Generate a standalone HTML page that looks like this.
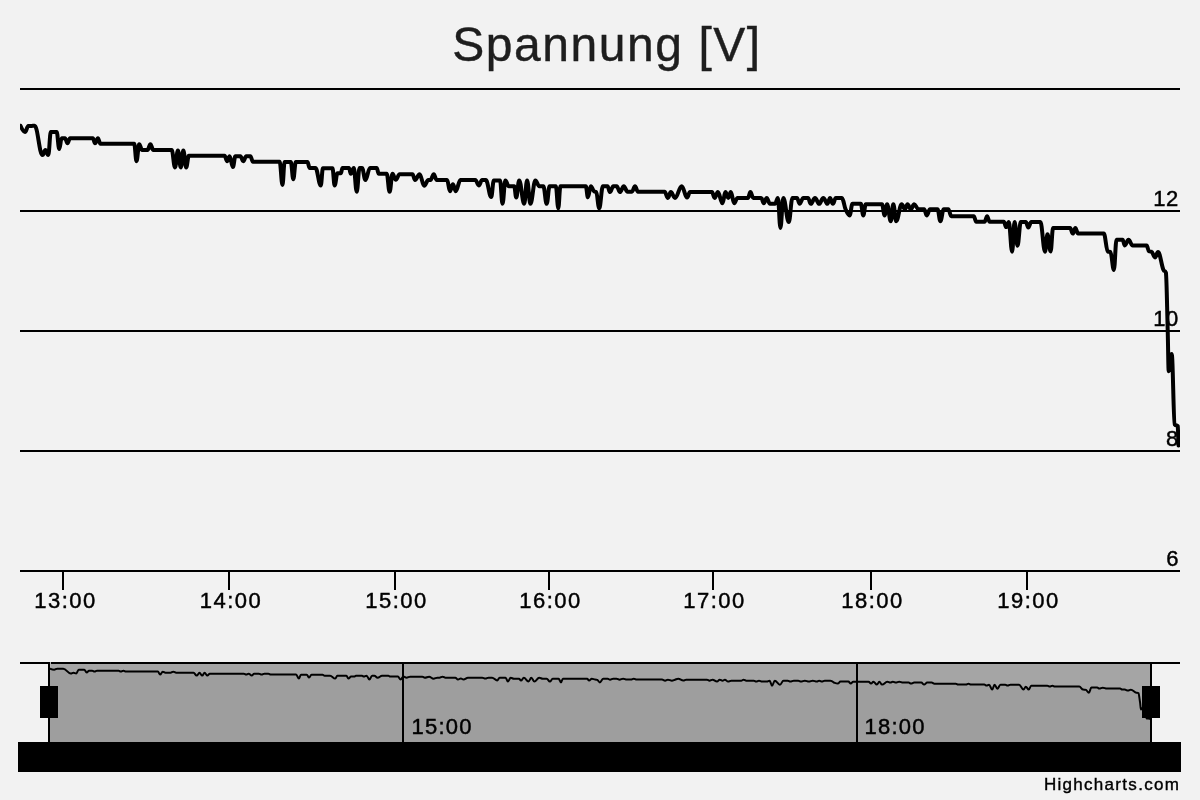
<!DOCTYPE html>
<html>
<head>
<meta charset="utf-8">
<style>
html,body{margin:0;padding:0;background:#f2f2f2;width:1200px;height:800px;overflow:hidden;}
svg{display:block;will-change:transform;}
text{font-family:"Liberation Sans",sans-serif;}
</style>
</head>
<body>
<svg width="1200" height="800" viewBox="0 0 1200 800">
<defs>
<clipPath id="plot"><rect x="20" y="89" width="1160" height="482"/></clipPath>
<clipPath id="navc"><rect x="50" y="664" width="1100" height="78"/></clipPath>
</defs>
<rect x="0" y="0" width="1200" height="800" fill="#f2f2f2"/>
<!-- title -->
<text x="607" y="61" text-anchor="middle" font-size="48" fill="#1e1e1e" stroke="#1e1e1e" stroke-width="0.4" letter-spacing="1.55">Spannung [V]</text>
<!-- grid -->
<g fill="#000">
<rect x="20" y="88" width="1160" height="2"/>
<rect x="20" y="210" width="1160" height="2"/>
<rect x="20" y="330" width="1160" height="2"/>
<rect x="20" y="450" width="1160" height="2"/>
<rect x="20" y="570" width="1160" height="2"/>
<!-- ticks -->
<rect x="62" y="572" width="2" height="18"/>
<rect x="228" y="572" width="2" height="18"/>
<rect x="394" y="572" width="2" height="18"/>
<rect x="548" y="572" width="2" height="18"/>
<rect x="712" y="572" width="2" height="18"/>
<rect x="870" y="572" width="2" height="18"/>
<rect x="1026" y="572" width="2" height="18"/>
</g>
<!-- y labels -->
<g font-size="22" fill="#000" stroke="#000" stroke-width="0.45" text-anchor="end" letter-spacing="0.4">
<text x="1178.6" y="205.9">12</text>
<text x="1178.6" y="325.9">10</text>
<text x="1178.6" y="445.9">8</text>
<text x="1179" y="565.9">6</text>
</g>
<!-- series -->
<g clip-path="url(#plot)">
<path d="M20.5 125.8C20.5 125.8 23.2 132.0 25.0 132.0C26.3 132.0 27.0 126.1 28.3 126.0C29.6 125.9 30.2 125.9 31.5 125.9C32.7 125.9 33.3 125.8 34.6 125.8C37.8 125.8 39.3 155.0 42.5 155.0C43.7 155.0 44.2 150.0 45.4 150.0C46.6 150.0 47.1 155.0 48.3 155.0C49.3 155.0 49.8 132.0 50.8 132.0C53.2 132.0 54.3 132.0 56.7 132.0C57.7 132.0 58.2 149.0 59.2 149.0C60.2 149.0 60.7 138.3 61.7 138.3C63.0 138.3 63.7 138.3 65.0 138.3C66.0 138.3 66.5 143.3 67.5 143.3C68.5 143.3 69.0 138.3 70.0 138.3C71.1 138.3 71.7 138.3 72.9 138.3C74.0 138.3 74.6 138.3 75.7 138.3C76.9 138.3 77.4 138.3 78.6 138.3C79.7 138.3 80.3 138.3 81.5 138.3C82.6 138.3 83.2 138.3 84.3 138.3C85.5 138.3 86.0 138.3 87.2 138.3C88.3 138.3 88.9 138.3 90.0 138.3C91.2 138.3 91.8 138.3 92.9 138.3C93.7 138.3 94.2 143.3 95.0 143.3C96.2 143.3 96.7 138.3 97.9 138.3C98.9 138.3 99.4 143.8 100.4 143.8C101.5 143.8 102.1 143.8 103.2 143.8C104.3 143.8 104.9 143.8 106.0 143.8C107.2 143.8 107.7 143.8 108.8 143.8C110.0 143.8 110.5 143.8 111.7 143.8C112.8 143.8 113.4 143.8 114.5 143.8C115.6 143.8 116.2 143.8 117.3 143.8C118.4 143.8 119.0 143.8 120.1 143.8C121.2 143.8 121.8 143.8 122.9 143.8C124.1 143.8 124.6 143.8 125.8 143.8C126.9 143.8 127.4 143.8 128.6 143.8C129.7 143.8 130.3 143.8 131.4 143.8C132.5 143.8 133.1 143.8 134.2 143.8C135.1 143.8 135.6 161.2 136.5 161.2C137.6 161.2 138.1 144.2 139.2 144.2C140.4 144.2 140.9 150.0 142.1 150.0C144.3 150.0 145.3 150.0 147.5 150.0C148.7 150.0 149.2 144.2 150.4 144.2C151.6 144.2 152.1 150.0 153.3 150.0C154.5 150.0 155.1 150.0 156.4 150.0C157.6 150.0 158.2 150.0 159.4 150.0C160.7 150.0 161.3 150.0 162.5 150.0C163.7 150.0 164.3 150.0 165.6 150.0C166.8 150.0 167.4 150.0 168.6 150.0C169.9 150.0 170.5 150.0 171.7 150.0C173.0 150.0 173.7 167.5 175.0 167.5C176.2 167.5 176.7 150.4 177.9 150.4C179.1 150.4 179.6 167.5 180.8 167.5C181.8 167.5 182.3 150.4 183.3 150.4C184.5 150.4 185.1 167.5 186.2 167.5C187.2 167.5 187.8 155.8 188.8 155.8C189.9 155.8 190.4 155.8 191.5 155.8C192.6 155.8 193.2 155.8 194.3 155.8C195.4 155.8 195.9 155.8 197.0 155.8C198.1 155.8 198.7 155.8 199.8 155.8C200.9 155.8 201.4 155.8 202.5 155.8C203.6 155.8 204.2 155.8 205.3 155.8C206.4 155.8 207.0 155.8 208.1 155.8C209.2 155.8 209.7 155.8 210.8 155.8C211.9 155.8 212.5 155.8 213.6 155.8C214.7 155.8 215.2 155.8 216.3 155.8C217.4 155.8 218.0 155.8 219.1 155.8C220.2 155.8 220.7 155.8 221.8 155.8C222.9 155.8 223.5 155.8 224.6 155.8C225.6 155.8 226.1 161.2 227.1 161.2C228.1 161.2 228.6 156.2 229.6 156.2C230.9 156.2 231.6 167.1 232.9 167.1C233.9 167.1 234.4 156.2 235.4 156.2C237.4 156.2 238.4 156.2 240.4 156.2C241.6 156.2 242.1 161.2 243.3 161.2C244.5 161.2 245.1 156.2 246.2 156.2C247.9 156.2 248.7 156.2 250.4 156.2C251.4 156.2 251.9 161.7 252.9 161.7C254.1 161.7 254.7 161.7 255.9 161.7C257.1 161.7 257.6 161.7 258.8 161.7C260.0 161.7 260.6 161.7 261.8 161.7C263.0 161.7 263.6 161.7 264.8 161.7C266.0 161.7 266.5 161.7 267.7 161.7C268.9 161.7 269.5 161.7 270.7 161.7C271.9 161.7 272.5 161.7 273.7 161.7C274.9 161.7 275.4 161.7 276.6 161.7C277.8 161.7 278.4 161.7 279.6 161.7C280.8 161.7 281.3 185.0 282.5 185.0C283.3 185.0 283.8 162.1 284.6 162.1C285.8 162.1 286.5 162.1 287.7 162.1C288.9 162.1 289.6 162.1 290.8 162.1C291.8 162.1 292.3 179.2 293.3 179.2C294.3 179.2 294.8 162.1 295.8 162.1C297.0 162.1 297.6 162.1 298.7 162.1C299.9 162.1 300.5 162.1 301.6 162.1C302.8 162.1 303.4 162.1 304.6 162.1C305.7 162.1 306.3 162.1 307.5 162.1C308.3 162.1 308.8 167.9 309.6 167.9C311.9 167.9 313.1 167.9 315.4 167.9C317.6 167.9 318.6 185.4 320.8 185.4C321.6 185.4 322.1 168.3 322.9 168.3C324.2 168.3 324.8 168.3 326.1 168.3C327.4 168.3 328.0 168.3 329.3 168.3C330.6 168.3 331.2 168.3 332.5 168.3C333.3 168.3 333.8 185.4 334.6 185.4C335.8 185.4 336.3 173.3 337.5 173.3C338.8 173.3 339.5 173.3 340.8 173.3C341.5 173.3 341.8 167.9 342.5 167.9C343.8 167.9 344.4 167.9 345.8 167.9C347.1 167.9 347.7 167.9 349.0 167.9C349.7 167.9 350.1 173.8 350.8 173.8C352.0 173.8 352.6 167.9 353.8 167.9C354.9 167.9 355.5 191.7 356.7 191.7C357.9 191.7 358.4 167.9 359.6 167.9C360.6 167.9 361.0 167.9 362.0 167.9C363.4 167.9 364.0 180.0 365.4 180.0C367.2 180.0 368.2 167.9 370.0 167.9C371.3 167.9 372.0 167.9 373.4 167.9C374.7 167.9 375.4 167.9 376.7 167.9C377.5 167.9 377.9 173.8 378.8 173.8C380.3 173.8 381.1 173.8 382.7 173.8C384.3 173.8 385.1 173.8 386.7 173.8C387.9 173.8 388.4 191.7 389.6 191.7C390.8 191.7 391.3 173.8 392.5 173.8C393.8 173.8 394.5 179.8 395.8 179.8C397.3 179.8 398.1 174.2 399.6 174.2C400.9 174.2 401.5 174.2 402.8 174.2C404.1 174.2 404.8 174.2 406.1 174.2C407.3 174.2 408.0 174.2 409.3 174.2C410.6 174.2 411.2 174.2 412.5 174.2C413.5 174.2 414.0 180.0 415.0 180.0C416.8 180.0 417.8 174.2 419.6 174.2C421.4 174.2 422.4 185.8 424.2 185.8C425.8 185.8 426.7 180.0 428.3 180.0C429.2 180.0 429.6 180.0 430.5 180.0C431.8 180.0 432.4 174.2 433.8 174.2C434.9 174.2 435.5 180.0 436.7 180.0C438.1 180.0 438.8 180.0 440.2 180.0C441.6 180.0 442.2 180.0 443.6 180.0C445.0 180.0 445.7 180.0 447.1 180.0C448.3 180.0 448.8 191.2 450.0 191.2C451.2 191.2 451.7 184.2 452.9 184.2C454.1 184.2 454.6 191.2 455.8 191.2C457.6 191.2 458.6 180.0 460.4 180.0C461.6 180.0 462.2 180.0 463.4 180.0C464.6 180.0 465.2 180.0 466.4 180.0C467.6 180.0 468.2 180.0 469.4 180.0C470.6 180.0 471.2 180.0 472.4 180.0C473.6 180.0 474.2 180.0 475.4 180.0C476.7 180.0 477.4 185.4 478.8 185.4C480.1 185.4 480.8 180.0 482.1 180.0C483.6 180.0 484.3 180.0 485.8 180.0C488.0 180.0 489.1 197.1 491.2 197.1C492.2 197.1 492.8 180.4 493.8 180.4C495.0 180.4 495.6 180.4 496.9 180.4C498.1 180.4 498.8 180.4 500.0 180.4C501.0 180.4 501.5 203.8 502.5 203.8C503.7 203.8 504.2 180.4 505.4 180.4C506.7 180.4 507.4 186.2 508.8 186.2C510.9 186.2 512.0 186.2 514.2 186.2C515.0 186.2 515.4 197.5 516.2 197.5C517.4 197.5 518.0 180.4 519.2 180.4C521.2 180.4 522.2 203.8 524.2 203.8C525.4 203.8 525.9 180.4 527.1 180.4C528.4 180.4 529.1 203.8 530.4 203.8C532.4 203.8 533.4 180.4 535.4 180.4C536.9 180.4 537.7 186.2 539.2 186.2C540.8 186.2 541.7 186.2 543.3 186.2C544.7 186.2 545.3 203.8 546.7 203.8C547.9 203.8 548.4 186.2 549.6 186.2C550.8 186.2 551.5 186.2 552.7 186.2C553.9 186.2 554.6 186.2 555.8 186.2C556.8 186.2 557.3 208.3 558.3 208.3C559.1 208.3 559.6 186.2 560.4 186.2C561.5 186.2 562.1 186.2 563.2 186.2C564.4 186.2 564.9 186.2 566.0 186.2C567.2 186.2 567.7 186.2 568.9 186.2C570.0 186.2 570.6 186.2 571.7 186.2C572.8 186.2 573.4 186.2 574.5 186.2C575.6 186.2 576.2 186.2 577.3 186.2C578.5 186.2 579.0 186.2 580.2 186.2C581.3 186.2 581.8 186.2 583.0 186.2C584.1 186.2 584.7 186.2 585.8 186.2C586.6 186.2 587.1 197.3 587.9 197.3C589.1 197.3 589.6 186.2 590.8 186.2C592.2 186.2 592.8 190.8 594.2 191.4C595.0 192.0 595.4 191.4 596.2 192.0C597.4 192.6 598.0 208.3 599.2 208.3C600.7 208.3 601.4 186.2 602.9 186.2C604.7 186.2 605.7 186.2 607.5 186.2C608.5 186.2 609.0 192.1 610.0 192.1C611.3 192.1 612.0 186.2 613.3 186.2C614.7 186.2 615.3 186.2 616.7 186.2C618.0 186.2 618.7 192.1 620.0 192.1C621.5 192.1 622.2 186.2 623.8 186.2C625.2 186.2 626.0 191.7 627.5 191.7C629.3 191.7 630.2 191.7 632.0 191.7C633.2 191.7 633.8 186.2 635.0 186.2C636.2 186.2 636.7 191.7 637.9 191.7C639.1 191.7 639.7 191.7 640.9 191.7C642.1 191.7 642.6 191.7 643.8 191.7C645.0 191.7 645.6 191.7 646.8 191.7C648.0 191.7 648.6 191.7 649.8 191.7C651.0 191.7 651.5 191.7 652.7 191.7C653.9 191.7 654.5 191.7 655.7 191.7C656.9 191.7 657.5 191.7 658.7 191.7C659.9 191.7 660.4 191.7 661.6 191.7C662.8 191.7 663.4 191.7 664.6 191.7C665.9 191.7 666.6 197.9 667.9 197.9C669.1 197.9 669.6 192.1 670.8 192.1C672.5 192.1 673.3 197.9 675.0 197.9C677.7 197.9 679.0 186.2 681.7 186.2C683.9 186.2 684.9 197.5 687.1 197.5C688.3 197.5 688.8 192.1 690.0 192.1C691.1 192.1 691.6 192.1 692.8 192.1C693.9 192.1 694.4 192.1 695.5 192.1C696.6 192.1 697.1 192.1 698.2 192.1C699.4 192.1 699.9 192.1 701.0 192.1C702.1 192.1 702.6 192.1 703.8 192.1C704.9 192.1 705.4 192.1 706.5 192.1C707.6 192.1 708.1 192.1 709.2 192.1C710.4 192.1 710.9 192.1 712.0 192.1C713.0 192.1 713.6 197.9 714.6 197.9C715.9 197.9 716.6 192.1 717.9 192.1C719.7 192.1 720.7 203.3 722.5 203.3C723.7 203.3 724.2 192.1 725.4 192.1C726.6 192.1 727.1 197.9 728.3 197.9C729.3 197.9 729.8 192.1 730.8 192.1C732.2 192.1 732.8 203.3 734.2 203.3C735.5 203.3 736.2 197.9 737.5 197.9C738.9 197.9 739.6 197.9 741.0 197.9C742.4 197.9 743.1 197.9 744.5 197.9C745.9 197.9 746.6 197.9 748.0 197.9C749.0 197.9 749.4 192.1 750.4 192.1C751.6 192.1 752.1 197.9 753.3 197.9C754.9 197.9 755.7 197.9 757.3 197.9C758.9 197.9 759.7 197.9 761.2 197.9C762.2 197.9 762.8 203.3 763.8 203.3C764.9 203.3 765.5 197.9 766.7 197.9C768.0 197.9 768.7 203.8 770.0 203.8C772.0 203.8 773.0 203.8 775.0 203.8C776.2 203.8 776.7 197.9 777.9 197.9C778.9 197.9 779.4 227.9 780.4 227.9C781.6 227.9 782.1 197.9 783.3 197.9C785.5 197.9 786.6 222.1 788.8 222.1C790.2 222.1 791.0 197.9 792.5 197.9C794.3 197.9 795.2 197.9 797.0 197.9C798.0 197.9 798.6 203.8 799.6 203.8C801.1 203.8 801.8 197.9 803.3 197.9C805.2 197.9 806.1 197.9 808.0 197.9C809.1 197.9 809.7 203.8 810.8 203.8C812.5 203.8 813.3 197.9 815.0 197.9C816.7 197.9 817.5 203.8 819.2 203.8C820.8 203.8 821.7 197.9 823.3 197.9C825.0 197.9 825.8 203.8 827.5 203.8C828.5 203.8 829.0 197.9 830.0 197.9C831.2 197.9 831.7 203.8 832.9 203.8C834.1 203.8 834.6 197.9 835.8 197.9C838.2 197.9 839.3 197.9 841.7 197.9C842.3 197.9 842.7 198.9 843.3 200.8C844.1 203.3 844.6 206.8 845.4 208.8C847.1 212.6 847.9 215.4 849.6 215.4C850.8 215.4 851.3 203.8 852.5 203.8C853.6 203.8 854.2 203.8 855.3 203.8C856.4 203.8 856.9 203.8 858.0 203.8C859.1 203.8 859.7 203.8 860.8 203.8C861.8 203.8 862.3 215.4 863.3 215.4C864.3 215.4 864.8 204.2 865.8 204.2C866.9 204.2 867.4 204.2 868.5 204.2C869.6 204.2 870.1 204.2 871.2 204.2C872.3 204.2 872.8 204.2 873.9 204.2C875.0 204.2 875.5 204.2 876.6 204.2C877.7 204.2 878.2 204.2 879.3 204.2C880.4 204.2 880.9 204.2 882.0 204.2C883.0 204.2 883.6 215.4 884.6 215.4C885.6 215.4 886.1 204.2 887.1 204.2C888.6 204.2 889.3 221.2 890.8 221.2C891.8 221.2 892.3 204.2 893.3 204.2C894.5 204.2 895.1 221.2 896.2 221.2C898.4 221.2 899.5 204.2 901.7 204.2C903.0 204.2 903.7 209.2 905.0 209.2C906.0 209.2 906.5 204.2 907.5 204.2C908.8 204.2 909.5 209.2 910.8 209.2C912.2 209.2 912.8 204.2 914.2 204.2C915.8 204.2 916.7 209.2 918.3 209.2C920.7 209.2 921.8 209.2 924.2 209.2C925.2 209.2 925.7 215.4 926.7 215.4C928.0 215.4 928.7 209.2 930.0 209.2C931.5 209.2 932.2 209.2 933.8 209.2C935.2 209.2 936.0 209.2 937.5 209.2C938.7 209.2 939.2 221.2 940.4 221.2C941.7 221.2 942.4 209.2 943.8 209.2C945.6 209.2 946.5 209.2 948.3 209.2C949.5 209.2 950.1 216.2 951.2 216.2C952.4 216.2 952.9 216.2 954.1 216.2C955.2 216.2 955.8 216.2 956.9 216.2C958.0 216.2 958.6 216.2 959.7 216.2C960.8 216.2 961.4 216.2 962.5 216.2C963.6 216.2 964.2 216.2 965.3 216.2C966.4 216.2 967.0 216.2 968.1 216.2C969.2 216.2 969.8 216.2 970.9 216.2C972.1 216.2 972.6 216.2 973.8 216.2C974.8 216.2 975.2 221.7 976.2 221.7C977.4 221.7 977.9 221.7 979.0 221.7C980.1 221.7 980.7 221.7 981.8 221.7C982.9 221.7 983.5 221.7 984.6 221.7C985.6 221.7 986.1 216.2 987.1 216.2C988.1 216.2 988.6 221.7 989.6 221.7C990.7 221.7 991.3 221.7 992.4 221.7C993.6 221.7 994.1 221.7 995.3 221.7C996.4 221.7 997.0 221.7 998.1 221.7C999.2 221.7 999.8 221.7 1000.9 221.7C1002.1 221.7 1002.6 221.7 1003.8 221.7C1004.8 221.7 1005.2 227.1 1006.2 227.1C1007.2 227.1 1007.8 222.1 1008.8 222.1C1010.1 222.1 1010.8 251.7 1012.1 251.7C1013.1 251.7 1013.6 222.1 1014.6 222.1C1015.8 222.1 1016.3 245.8 1017.5 245.8C1018.8 245.8 1019.5 222.1 1020.8 222.1C1022.8 222.1 1023.8 222.1 1025.8 222.1C1026.8 222.1 1027.3 227.5 1028.3 227.5C1029.5 227.5 1030.1 222.1 1031.2 222.1C1032.5 222.1 1033.1 222.1 1034.3 222.1C1035.5 222.1 1036.1 222.1 1037.4 222.1C1038.6 222.1 1039.2 222.1 1040.4 222.1C1042.2 222.1 1043.2 251.7 1045.0 251.7C1046.0 251.7 1046.5 234.2 1047.5 234.2C1048.7 234.2 1049.4 251.4 1050.6 251.4C1051.6 251.4 1052.1 227.9 1053.1 227.9C1054.2 227.9 1054.8 227.9 1055.9 227.9C1057.1 227.9 1057.6 227.9 1058.8 227.9C1059.9 227.9 1060.5 227.9 1061.6 227.9C1062.7 227.9 1063.3 227.9 1064.4 227.9C1065.6 227.9 1066.1 227.9 1067.3 227.9C1068.4 227.9 1069.0 227.9 1070.1 227.9C1071.2 227.9 1071.7 233.6 1072.8 233.6C1073.8 233.6 1074.3 227.9 1075.4 227.9C1076.4 227.9 1077.0 233.6 1078.0 233.6C1079.1 233.6 1079.7 233.6 1080.9 233.6C1082.0 233.6 1082.6 233.6 1083.7 233.6C1084.9 233.6 1085.5 233.6 1086.6 233.6C1087.7 233.6 1088.3 233.6 1089.5 233.6C1090.6 233.6 1091.2 233.6 1092.3 233.6C1093.5 233.6 1094.1 233.6 1095.2 233.6C1096.3 233.6 1096.9 233.6 1098.1 233.6C1099.2 233.6 1099.8 233.6 1100.9 233.6C1102.1 233.6 1102.7 233.6 1103.8 233.6C1105.4 233.6 1106.2 251.2 1107.8 251.6C1108.8 252.0 1109.3 251.6 1110.4 252.0C1111.8 252.4 1112.5 269.9 1113.9 269.9C1114.9 269.9 1115.5 239.8 1116.5 239.8C1117.7 239.8 1118.3 239.8 1119.5 239.8C1120.8 239.8 1121.4 239.8 1122.6 239.8C1123.5 239.8 1123.9 245.5 1124.8 245.5C1126.3 245.5 1127.0 239.8 1128.5 239.8C1130.2 239.8 1131.0 245.6 1132.7 245.6C1133.8 245.6 1134.4 245.6 1135.5 245.6C1136.6 245.6 1137.2 245.6 1138.3 245.6C1139.4 245.6 1140.0 245.6 1141.1 245.6C1142.2 245.6 1142.8 245.6 1143.9 245.6C1145.0 245.6 1145.6 245.6 1146.7 245.6C1147.6 245.6 1148.0 250.8 1148.9 251.2C1149.9 251.7 1150.5 251.2 1151.5 251.7C1152.9 252.1 1153.6 257.4 1155.0 257.4C1156.2 257.4 1156.8 252.1 1158.0 252.1C1160.1 252.1 1161.2 264.1 1163.3 269.6C1164.3 272.3 1164.9 269.6 1165.9 272.7C1166.6 275.8 1167.0 304.7 1167.7 330.0C1168.1 344.1 1168.3 371.2 1168.7 371.2C1169.9 371.2 1170.5 354.0 1171.7 354.0C1172.9 354.0 1173.5 423.0 1174.7 424.5C1175.9 426.0 1176.5 424.5 1177.7 426.0C1178.0 427.5 1178.5 445.5 1178.5 445.5" fill="none" stroke="#000" stroke-width="4" stroke-linejoin="round" stroke-linecap="round"/>
</g>
<!-- x labels -->
<g font-size="22" fill="#000" stroke="#000" stroke-width="0.45" text-anchor="middle" letter-spacing="1.5">
<text x="65.5" y="607.8">13:00</text>
<text x="231" y="607.8">14:00</text>
<text x="396.5" y="607.8">15:00</text>
<text x="550.5" y="607.8">16:00</text>
<text x="714.5" y="607.8">17:00</text>
<text x="872.5" y="607.8">18:00</text>
<text x="1028.5" y="607.8">19:00</text>
</g>
<!-- navigator -->
<rect x="50" y="664" width="1100" height="78" fill="#a5a5a5"/>
<g fill="#000">
<rect x="402" y="664" width="2" height="78"/>
<rect x="856" y="664" width="2" height="78"/>
</g>
<g font-size="22" fill="#000" stroke="#000" stroke-width="0.45" letter-spacing="1.2">
<text x="411.6" y="733.5">15:00</text>
<text x="864.6" y="733.5">18:00</text>
</g>
<g clip-path="url(#navc)">
<path d="M49.9 668.7C49.9 668.7 52.4 669.7 54.2 669.7C55.4 669.7 56.0 668.7 57.3 668.7C58.5 668.7 59.1 668.7 60.3 668.7C61.5 668.7 62.1 668.7 63.3 668.7C66.3 668.7 67.8 673.5 70.8 673.5C71.9 673.5 72.4 672.7 73.5 672.7C74.6 672.7 75.2 673.5 76.3 673.5C77.2 673.5 77.7 669.7 78.7 669.7C79.8 669.7 80.4 669.7 81.5 669.7C82.6 669.7 83.2 669.7 84.3 669.7C85.2 669.7 85.7 672.5 86.7 672.5C87.6 672.5 88.1 670.7 89.0 670.7C90.3 670.7 90.9 670.7 92.2 670.7C93.1 670.7 93.6 671.6 94.5 671.6C95.5 671.6 96.0 670.7 96.9 670.7C98.0 670.7 98.6 670.7 99.6 670.7C100.7 670.7 101.3 670.7 102.4 670.7C103.4 670.7 104.0 670.7 105.1 670.7C106.2 670.7 106.7 670.7 107.8 670.7C108.9 670.7 109.4 670.7 110.5 670.7C111.6 670.7 112.2 670.7 113.2 670.7C114.3 670.7 114.9 670.7 116.0 670.7C117.1 670.7 117.6 670.7 118.7 670.7C119.5 670.7 119.9 671.6 120.7 671.6C121.8 671.6 122.3 670.7 123.4 670.7C124.4 670.7 124.9 671.6 125.8 671.6C126.9 671.6 127.4 671.6 128.5 671.6C129.6 671.6 130.1 671.6 131.2 671.6C132.2 671.6 132.8 671.6 133.8 671.6C134.9 671.6 135.4 671.6 136.5 671.6C137.6 671.6 138.1 671.6 139.2 671.6C140.3 671.6 140.8 671.6 141.9 671.6C142.9 671.6 143.5 671.6 144.5 671.6C145.6 671.6 146.2 671.6 147.2 671.6C148.3 671.6 148.8 671.6 149.9 671.6C151.0 671.6 151.5 671.6 152.6 671.6C153.6 671.6 154.2 671.6 155.3 671.6C156.3 671.6 156.9 671.6 157.9 671.6C158.8 671.6 159.2 674.6 160.1 674.6C161.1 674.6 161.7 671.7 162.7 671.7C163.8 671.7 164.3 672.7 165.4 672.7C167.5 672.7 168.5 672.7 170.6 672.7C171.7 672.7 172.2 671.7 173.3 671.7C174.4 671.7 175.0 672.7 176.1 672.7C177.2 672.7 177.8 672.7 179.0 672.7C180.2 672.7 180.7 672.7 181.9 672.7C183.1 672.7 183.7 672.7 184.8 672.7C186.0 672.7 186.6 672.7 187.7 672.7C188.9 672.7 189.5 672.7 190.7 672.7C191.8 672.7 192.4 672.7 193.6 672.7C194.8 672.7 195.4 675.6 196.7 675.6C197.8 675.6 198.4 672.8 199.5 672.8C200.6 672.8 201.1 675.6 202.2 675.6C203.2 675.6 203.6 672.8 204.6 672.8C205.7 672.8 206.3 675.6 207.4 675.6C208.3 675.6 208.8 673.7 209.8 673.7C210.8 673.7 211.3 673.7 212.4 673.7C213.4 673.7 214.0 673.7 215.0 673.7C216.1 673.7 216.6 673.7 217.6 673.7C218.7 673.7 219.2 673.7 220.3 673.7C221.3 673.7 221.8 673.7 222.9 673.7C223.9 673.7 224.4 673.7 225.5 673.7C226.5 673.7 227.1 673.7 228.1 673.7C229.2 673.7 229.7 673.7 230.7 673.7C231.8 673.7 232.3 673.7 233.4 673.7C234.4 673.7 234.9 673.7 236.0 673.7C237.0 673.7 237.5 673.7 238.6 673.7C239.6 673.7 240.2 673.7 241.2 673.7C242.3 673.7 242.8 673.7 243.8 673.7C244.8 673.7 245.3 674.6 246.2 674.6C247.2 674.6 247.6 673.7 248.6 673.7C249.8 673.7 250.5 675.5 251.7 675.5C252.7 675.5 253.2 673.7 254.1 673.7C256.0 673.7 257.0 673.7 258.9 673.7C260.0 673.7 260.5 674.6 261.6 674.6C262.7 674.6 263.3 673.7 264.4 673.7C266.0 673.7 266.8 673.7 268.4 673.7C269.3 673.7 269.8 674.6 270.7 674.6C271.9 674.6 272.4 674.6 273.6 674.6C274.7 674.6 275.2 674.6 276.4 674.6C277.5 674.6 278.1 674.6 279.2 674.6C280.3 674.6 280.9 674.6 282.0 674.6C283.1 674.6 283.7 674.6 284.8 674.6C286.0 674.6 286.5 674.6 287.6 674.6C288.8 674.6 289.3 674.6 290.5 674.6C291.6 674.6 292.2 674.6 293.3 674.6C294.4 674.6 295.0 674.6 296.1 674.6C297.2 674.6 297.8 678.5 298.9 678.5C299.7 678.5 300.1 674.7 300.9 674.7C302.0 674.7 302.6 674.7 303.8 674.7C305.0 674.7 305.6 674.7 306.7 674.7C307.7 674.7 308.2 677.6 309.1 677.6C310.1 677.6 310.5 674.7 311.5 674.7C312.6 674.7 313.2 674.7 314.3 674.7C315.4 674.7 315.9 674.7 317.1 674.7C318.2 674.7 318.7 674.7 319.8 674.7C320.9 674.7 321.5 674.7 322.6 674.7C323.4 674.7 323.8 675.7 324.6 675.7C325.7 675.7 326.3 675.7 327.4 675.7C328.5 675.7 329.0 675.7 330.1 675.7C332.2 675.7 333.2 678.6 335.3 678.6C336.1 678.6 336.5 675.7 337.3 675.7C338.5 675.7 339.1 675.7 340.3 675.7C341.5 675.7 342.1 675.7 343.3 675.7C344.6 675.7 345.2 675.7 346.4 675.7C347.2 675.7 347.6 678.6 348.4 678.6C349.5 678.6 350.0 676.6 351.1 676.6C352.4 676.6 353.0 676.6 354.3 676.6C354.9 676.6 355.2 675.7 355.9 675.7C357.1 675.7 357.7 675.7 359.0 675.7C360.2 675.7 360.8 675.7 362.1 675.7C362.7 675.7 363.1 676.6 363.8 676.6C364.9 676.6 365.4 675.7 366.6 675.7C367.7 675.7 368.3 679.6 369.4 679.6C370.5 679.6 371.0 675.7 372.1 675.7C373.0 675.7 373.5 675.7 374.4 675.7C375.7 675.7 376.3 677.7 377.6 677.7C379.4 677.7 380.3 675.7 382.0 675.7C383.3 675.7 383.9 675.7 385.2 675.7C386.5 675.7 387.1 675.7 388.4 675.7C389.2 675.7 389.5 676.6 390.3 676.6C391.8 676.6 392.6 676.6 394.1 676.6C395.6 676.6 396.4 676.6 397.9 676.6C399.0 676.6 399.5 679.6 400.6 679.6C401.7 679.6 402.3 676.6 403.4 676.6C404.6 676.6 405.3 677.7 406.5 677.7C408.0 677.7 408.7 676.7 410.1 676.7C411.4 676.7 412.0 676.7 413.2 676.7C414.4 676.7 415.0 676.7 416.3 676.7C417.5 676.7 418.1 676.7 419.3 676.7C420.6 676.7 421.2 676.7 422.4 676.7C423.3 676.7 423.8 677.7 424.8 677.7C426.5 677.7 427.4 676.7 429.1 676.7C430.9 676.7 431.8 678.7 433.5 678.7C435.1 678.7 435.9 677.7 437.4 677.7C438.2 677.7 438.7 677.7 439.5 677.7C440.7 677.7 441.4 676.7 442.6 676.7C443.7 676.7 444.3 677.7 445.4 677.7C446.7 677.7 447.4 677.7 448.7 677.7C450.0 677.7 450.7 677.7 452.0 677.7C453.3 677.7 454.0 677.7 455.3 677.7C456.4 677.7 456.9 679.6 458.0 679.6C459.1 679.6 459.7 678.4 460.8 678.4C461.9 678.4 462.4 679.6 463.5 679.6C465.3 679.6 466.2 677.7 467.9 677.7C469.1 677.7 469.6 677.7 470.8 677.7C471.9 677.7 472.5 677.7 473.6 677.7C474.8 677.7 475.3 677.7 476.5 677.7C477.6 677.7 478.2 677.7 479.3 677.7C480.5 677.7 481.0 677.7 482.2 677.7C483.4 677.7 484.1 678.6 485.4 678.6C486.6 678.6 487.3 677.7 488.5 677.7C489.9 677.7 490.6 677.7 492.1 677.7C494.1 677.7 495.2 680.5 497.2 680.5C498.2 680.5 498.7 677.8 499.6 677.8C500.8 677.8 501.4 677.8 502.6 677.8C503.8 677.8 504.4 677.8 505.6 677.8C506.5 677.8 507.0 681.6 507.9 681.6C509.0 681.6 509.6 677.8 510.7 677.8C512.0 677.8 512.6 678.7 513.9 678.7C515.9 678.7 517.0 678.7 519.0 678.7C519.8 678.7 520.2 680.6 521.0 680.6C522.1 680.6 522.7 677.8 523.8 677.8C525.7 677.8 526.6 681.6 528.5 681.6C529.6 681.6 530.2 677.8 531.3 677.8C532.6 677.8 533.2 681.6 534.4 681.6C536.3 681.6 537.3 677.8 539.2 677.8C540.6 677.8 541.4 678.7 542.8 678.7C544.4 678.7 545.1 678.7 546.7 678.7C548.0 678.7 548.6 681.6 549.9 681.6C551.0 681.6 551.6 678.7 552.7 678.7C553.9 678.7 554.5 678.7 555.6 678.7C556.8 678.7 557.4 678.7 558.6 678.7C559.5 678.7 560.0 682.4 561.0 682.4C561.8 682.4 562.1 678.7 562.9 678.7C564.0 678.7 564.6 678.7 565.6 678.7C566.7 678.7 567.2 678.7 568.3 678.7C569.4 678.7 569.9 678.7 571.0 678.7C572.1 678.7 572.6 678.7 573.7 678.7C574.7 678.7 575.3 678.7 576.4 678.7C577.4 678.7 578.0 678.7 579.0 678.7C580.1 678.7 580.6 678.7 581.7 678.7C582.8 678.7 583.3 678.7 584.4 678.7C585.5 678.7 586.0 678.7 587.1 678.7C587.9 678.7 588.3 680.6 589.1 680.6C590.2 680.6 590.7 678.7 591.8 678.7C593.1 678.7 593.8 679.5 595.1 679.6C595.8 679.7 596.2 679.6 597.0 679.7C598.1 679.8 598.7 682.4 599.8 682.4C601.2 682.4 601.9 678.7 603.3 678.7C605.1 678.7 606.0 678.7 607.7 678.7C608.7 678.7 609.1 679.7 610.1 679.7C611.3 679.7 612.0 678.7 613.2 678.7C614.5 678.7 615.2 678.7 616.5 678.7C617.7 678.7 618.3 679.7 619.6 679.7C621.0 679.7 621.7 678.7 623.1 678.7C624.6 678.7 625.3 679.6 626.7 679.6C628.4 679.6 629.3 679.6 631.0 679.6C632.1 679.6 632.7 678.7 633.8 678.7C634.9 678.7 635.5 679.6 636.6 679.6C637.7 679.6 638.3 679.6 639.4 679.6C640.5 679.6 641.1 679.6 642.2 679.6C643.4 679.6 643.9 679.6 645.1 679.6C646.2 679.6 646.7 679.6 647.9 679.6C649.0 679.6 649.6 679.6 650.7 679.6C651.8 679.6 652.4 679.6 653.5 679.6C654.6 679.6 655.2 679.6 656.3 679.6C657.5 679.6 658.0 679.6 659.2 679.6C660.3 679.6 660.8 679.6 662.0 679.6C663.2 679.6 663.9 680.7 665.1 680.7C666.2 680.7 666.8 679.7 667.9 679.7C669.5 679.7 670.3 680.7 671.9 680.7C673.1 680.7 673.8 680.1 675.0 679.7C676.3 679.3 676.9 678.7 678.2 678.7C680.3 678.7 681.3 680.6 683.4 680.6C684.5 680.6 685.0 679.7 686.1 679.7C687.2 679.7 687.7 679.7 688.7 679.7C689.8 679.7 690.3 679.7 691.3 679.7C692.4 679.7 692.9 679.7 693.9 679.7C695.0 679.7 695.5 679.7 696.6 679.7C697.6 679.7 698.1 679.7 699.2 679.7C700.2 679.7 700.7 679.7 701.8 679.7C702.8 679.7 703.4 679.7 704.4 679.7C705.4 679.7 706.0 679.7 707.0 679.7C708.0 679.7 708.5 680.7 709.5 680.7C710.7 680.7 711.4 679.7 712.6 679.7C714.4 679.7 715.2 681.6 717.0 681.6C718.1 681.6 718.6 679.7 719.7 679.7C720.8 679.7 721.4 680.7 722.5 680.7C723.5 680.7 723.9 679.7 724.9 679.7C726.2 679.7 726.8 681.6 728.1 681.6C729.4 681.6 730.0 680.7 731.2 680.7C732.6 680.7 733.2 680.7 734.6 680.7C735.9 680.7 736.6 680.7 737.9 680.7C739.2 680.7 739.9 680.7 741.2 680.7C742.1 680.7 742.6 679.7 743.5 679.7C744.6 679.7 745.2 680.7 746.3 680.7C747.8 680.7 748.5 680.7 750.0 680.7C751.5 680.7 752.3 680.7 753.8 680.7C754.8 680.7 755.2 681.6 756.2 681.6C757.3 681.6 757.9 680.7 759.0 680.7C760.2 680.7 760.9 681.6 762.1 681.6C764.0 681.6 765.0 681.6 766.9 681.6C768.0 681.6 768.5 680.7 769.6 680.7C770.6 680.7 771.1 685.7 772.0 685.7C773.1 685.7 773.7 680.7 774.8 680.7C776.8 680.7 777.9 684.7 779.9 684.7C781.4 684.7 782.1 680.7 783.5 680.7C785.2 680.7 786.1 680.7 787.8 680.7C788.8 680.7 789.3 681.6 790.3 681.6C791.7 681.6 792.4 680.7 793.8 680.7C795.6 680.7 796.5 680.7 798.2 680.7C799.3 680.7 799.8 681.6 800.9 681.6C802.5 681.6 803.3 680.7 804.9 680.7C806.5 680.7 807.3 681.6 808.9 681.6C810.4 681.6 811.2 680.7 812.8 680.7C814.4 680.7 815.2 681.6 816.8 681.6C817.7 681.6 818.2 680.7 819.1 680.7C820.3 680.7 820.8 681.6 821.9 681.6C823.0 681.6 823.6 680.7 824.7 680.7C825.8 680.7 826.3 680.7 827.5 680.7C828.6 680.7 829.1 680.7 830.3 680.7C830.9 680.7 831.2 680.8 831.8 681.2C832.6 681.6 833.0 682.2 833.8 682.5C835.4 683.1 836.2 683.6 837.8 683.6C838.9 683.6 839.4 681.6 840.5 681.6C841.6 681.6 842.1 681.6 843.2 681.6C844.2 681.6 844.7 681.6 845.8 681.6C846.8 681.6 847.4 681.6 848.4 681.6C849.4 681.6 849.8 683.6 850.8 683.6C851.7 683.6 852.2 681.7 853.2 681.7C854.4 681.7 855.0 681.7 856.2 681.7C857.5 681.7 858.1 681.7 859.3 681.7C860.6 681.7 861.2 681.7 862.4 681.7C863.6 681.7 864.3 681.7 865.5 681.7C866.7 681.7 867.3 681.7 868.6 681.7C869.6 681.7 870.0 683.6 871.0 683.6C872.0 683.6 872.5 681.7 873.4 681.7C874.8 681.7 875.5 684.6 876.9 684.6C877.9 684.6 878.4 681.7 879.3 681.7C880.4 681.7 881.0 684.6 882.1 684.6C884.2 684.6 885.2 681.7 887.3 681.7C888.5 681.7 889.2 682.6 890.4 682.6C891.4 682.6 891.8 681.7 892.8 681.7C894.1 681.7 894.7 682.6 895.9 682.6C897.2 682.6 897.9 681.7 899.2 681.7C900.7 681.7 901.5 682.6 903.1 682.6C904.2 682.6 904.7 682.6 905.9 682.6C907.0 682.6 907.5 682.6 908.7 682.6C909.6 682.6 910.1 683.6 911.0 683.6C912.3 683.6 912.9 682.6 914.2 682.6C915.6 682.6 916.3 682.6 917.7 682.6C919.2 682.6 919.9 682.6 921.3 682.6C922.4 682.6 923.0 684.6 924.1 684.6C925.3 684.6 926.0 682.6 927.2 682.6C929.0 682.6 929.8 682.6 931.6 682.6C932.7 682.6 933.3 683.7 934.4 683.7C935.4 683.7 936.0 683.7 937.0 683.7C938.1 683.7 938.6 683.7 939.7 683.7C940.8 683.7 941.3 683.7 942.4 683.7C943.5 683.7 944.0 683.7 945.1 683.7C946.1 683.7 946.7 683.7 947.7 683.7C948.8 683.7 949.3 683.7 950.4 683.7C951.5 683.7 952.0 683.7 953.1 683.7C954.2 683.7 954.7 683.7 955.8 683.7C956.7 683.7 957.2 684.6 958.1 684.6C959.2 684.6 959.7 684.6 960.8 684.6C961.8 684.6 962.4 684.6 963.4 684.6C964.5 684.6 965.0 684.6 966.1 684.6C967.0 684.6 967.5 683.7 968.4 683.7C969.4 683.7 969.9 684.6 970.8 684.6C971.9 684.6 972.4 684.6 973.5 684.6C974.6 684.6 975.1 684.6 976.2 684.6C977.3 684.6 977.8 684.6 978.9 684.6C980.0 684.6 980.5 684.6 981.6 684.6C982.7 684.6 983.2 684.6 984.3 684.6C985.2 684.6 985.7 685.5 986.6 685.5C987.6 685.5 988.1 684.7 989.0 684.7C990.3 684.7 990.9 689.6 992.2 689.6C993.1 689.6 993.6 684.7 994.6 684.7C995.7 684.7 996.2 688.7 997.3 688.7C998.6 688.7 999.2 684.7 1000.5 684.7C1002.4 684.7 1003.3 684.7 1005.2 684.7C1006.2 684.7 1006.6 685.6 1007.6 685.6C1008.7 685.6 1009.3 684.7 1010.4 684.7C1011.6 684.7 1012.1 684.7 1013.3 684.7C1014.5 684.7 1015.0 684.7 1016.2 684.7C1017.4 684.7 1017.9 684.7 1019.1 684.7C1020.8 684.7 1021.7 689.6 1023.5 689.6C1024.4 689.6 1024.9 686.7 1025.8 686.7C1027.0 686.7 1027.6 689.6 1028.8 689.6C1029.7 689.6 1030.2 685.7 1031.2 685.7C1032.2 685.7 1032.8 685.7 1033.9 685.7C1034.9 685.7 1035.5 685.7 1036.5 685.7C1037.6 685.7 1038.2 685.7 1039.2 685.7C1040.3 685.7 1040.9 685.7 1041.9 685.7C1043.0 685.7 1043.5 685.7 1044.6 685.7C1045.7 685.7 1046.2 685.7 1047.3 685.7C1048.3 685.7 1048.8 686.6 1049.8 686.6C1050.8 686.6 1051.3 685.7 1052.4 685.7C1053.3 685.7 1053.8 686.6 1054.8 686.6C1055.9 686.6 1056.5 686.6 1057.5 686.6C1058.6 686.6 1059.2 686.6 1060.3 686.6C1061.4 686.6 1061.9 686.6 1063.0 686.6C1064.1 686.6 1064.6 686.6 1065.7 686.6C1066.8 686.6 1067.4 686.6 1068.4 686.6C1069.5 686.6 1070.1 686.6 1071.2 686.6C1072.3 686.6 1072.8 686.6 1073.9 686.6C1075.0 686.6 1075.5 686.6 1076.6 686.6C1077.7 686.6 1078.3 686.6 1079.3 686.6C1080.8 686.6 1081.6 689.5 1083.1 689.6C1084.1 689.7 1084.6 689.6 1085.6 689.7C1086.9 689.7 1087.6 692.7 1088.9 692.7C1089.9 692.7 1090.4 687.6 1091.4 687.6C1092.6 687.6 1093.1 687.6 1094.3 687.6C1095.5 687.6 1096.0 687.6 1097.2 687.6C1098.0 687.6 1098.5 688.6 1099.3 688.6C1100.7 688.6 1101.4 687.7 1102.8 687.7C1104.4 687.7 1105.2 688.6 1106.8 688.6C1107.9 688.6 1108.4 688.6 1109.5 688.6C1110.5 688.6 1111.1 688.6 1112.1 688.6C1113.2 688.6 1113.7 688.6 1114.8 688.6C1115.9 688.6 1116.4 688.6 1117.4 688.6C1118.5 688.6 1119.0 688.6 1120.1 688.6C1120.9 688.6 1121.4 689.5 1122.2 689.6C1123.2 689.6 1123.7 689.6 1124.7 689.6C1126.0 689.7 1126.7 690.6 1128.0 690.6C1129.1 690.6 1129.7 689.7 1130.8 689.7C1132.9 689.7 1133.9 691.7 1135.9 692.6C1136.9 693.1 1137.4 692.6 1138.4 693.1C1139.0 693.6 1139.4 698.5 1140.1 702.7C1140.4 705.0 1140.6 709.5 1141.0 709.5C1142.2 709.5 1142.7 706.7 1143.9 706.7C1145.0 706.7 1145.6 718.2 1146.7 718.4C1147.9 718.7 1148.4 718.4 1149.6 718.7C1149.9 718.9 1150.3 719.3 1150.3 719.3L1150.3 742L49.9 742Z" fill="#000" fill-opacity="0.04" stroke="none"/>
<path d="M49.9 668.7C49.9 668.7 52.4 669.7 54.2 669.7C55.4 669.7 56.0 668.7 57.3 668.7C58.5 668.7 59.1 668.7 60.3 668.7C61.5 668.7 62.1 668.7 63.3 668.7C66.3 668.7 67.8 673.5 70.8 673.5C71.9 673.5 72.4 672.7 73.5 672.7C74.6 672.7 75.2 673.5 76.3 673.5C77.2 673.5 77.7 669.7 78.7 669.7C79.8 669.7 80.4 669.7 81.5 669.7C82.6 669.7 83.2 669.7 84.3 669.7C85.2 669.7 85.7 672.5 86.7 672.5C87.6 672.5 88.1 670.7 89.0 670.7C90.3 670.7 90.9 670.7 92.2 670.7C93.1 670.7 93.6 671.6 94.5 671.6C95.5 671.6 96.0 670.7 96.9 670.7C98.0 670.7 98.6 670.7 99.6 670.7C100.7 670.7 101.3 670.7 102.4 670.7C103.4 670.7 104.0 670.7 105.1 670.7C106.2 670.7 106.7 670.7 107.8 670.7C108.9 670.7 109.4 670.7 110.5 670.7C111.6 670.7 112.2 670.7 113.2 670.7C114.3 670.7 114.9 670.7 116.0 670.7C117.1 670.7 117.6 670.7 118.7 670.7C119.5 670.7 119.9 671.6 120.7 671.6C121.8 671.6 122.3 670.7 123.4 670.7C124.4 670.7 124.9 671.6 125.8 671.6C126.9 671.6 127.4 671.6 128.5 671.6C129.6 671.6 130.1 671.6 131.2 671.6C132.2 671.6 132.8 671.6 133.8 671.6C134.9 671.6 135.4 671.6 136.5 671.6C137.6 671.6 138.1 671.6 139.2 671.6C140.3 671.6 140.8 671.6 141.9 671.6C142.9 671.6 143.5 671.6 144.5 671.6C145.6 671.6 146.2 671.6 147.2 671.6C148.3 671.6 148.8 671.6 149.9 671.6C151.0 671.6 151.5 671.6 152.6 671.6C153.6 671.6 154.2 671.6 155.3 671.6C156.3 671.6 156.9 671.6 157.9 671.6C158.8 671.6 159.2 674.6 160.1 674.6C161.1 674.6 161.7 671.7 162.7 671.7C163.8 671.7 164.3 672.7 165.4 672.7C167.5 672.7 168.5 672.7 170.6 672.7C171.7 672.7 172.2 671.7 173.3 671.7C174.4 671.7 175.0 672.7 176.1 672.7C177.2 672.7 177.8 672.7 179.0 672.7C180.2 672.7 180.7 672.7 181.9 672.7C183.1 672.7 183.7 672.7 184.8 672.7C186.0 672.7 186.6 672.7 187.7 672.7C188.9 672.7 189.5 672.7 190.7 672.7C191.8 672.7 192.4 672.7 193.6 672.7C194.8 672.7 195.4 675.6 196.7 675.6C197.8 675.6 198.4 672.8 199.5 672.8C200.6 672.8 201.1 675.6 202.2 675.6C203.2 675.6 203.6 672.8 204.6 672.8C205.7 672.8 206.3 675.6 207.4 675.6C208.3 675.6 208.8 673.7 209.8 673.7C210.8 673.7 211.3 673.7 212.4 673.7C213.4 673.7 214.0 673.7 215.0 673.7C216.1 673.7 216.6 673.7 217.6 673.7C218.7 673.7 219.2 673.7 220.3 673.7C221.3 673.7 221.8 673.7 222.9 673.7C223.9 673.7 224.4 673.7 225.5 673.7C226.5 673.7 227.1 673.7 228.1 673.7C229.2 673.7 229.7 673.7 230.7 673.7C231.8 673.7 232.3 673.7 233.4 673.7C234.4 673.7 234.9 673.7 236.0 673.7C237.0 673.7 237.5 673.7 238.6 673.7C239.6 673.7 240.2 673.7 241.2 673.7C242.3 673.7 242.8 673.7 243.8 673.7C244.8 673.7 245.3 674.6 246.2 674.6C247.2 674.6 247.6 673.7 248.6 673.7C249.8 673.7 250.5 675.5 251.7 675.5C252.7 675.5 253.2 673.7 254.1 673.7C256.0 673.7 257.0 673.7 258.9 673.7C260.0 673.7 260.5 674.6 261.6 674.6C262.7 674.6 263.3 673.7 264.4 673.7C266.0 673.7 266.8 673.7 268.4 673.7C269.3 673.7 269.8 674.6 270.7 674.6C271.9 674.6 272.4 674.6 273.6 674.6C274.7 674.6 275.2 674.6 276.4 674.6C277.5 674.6 278.1 674.6 279.2 674.6C280.3 674.6 280.9 674.6 282.0 674.6C283.1 674.6 283.7 674.6 284.8 674.6C286.0 674.6 286.5 674.6 287.6 674.6C288.8 674.6 289.3 674.6 290.5 674.6C291.6 674.6 292.2 674.6 293.3 674.6C294.4 674.6 295.0 674.6 296.1 674.6C297.2 674.6 297.8 678.5 298.9 678.5C299.7 678.5 300.1 674.7 300.9 674.7C302.0 674.7 302.6 674.7 303.8 674.7C305.0 674.7 305.6 674.7 306.7 674.7C307.7 674.7 308.2 677.6 309.1 677.6C310.1 677.6 310.5 674.7 311.5 674.7C312.6 674.7 313.2 674.7 314.3 674.7C315.4 674.7 315.9 674.7 317.1 674.7C318.2 674.7 318.7 674.7 319.8 674.7C320.9 674.7 321.5 674.7 322.6 674.7C323.4 674.7 323.8 675.7 324.6 675.7C325.7 675.7 326.3 675.7 327.4 675.7C328.5 675.7 329.0 675.7 330.1 675.7C332.2 675.7 333.2 678.6 335.3 678.6C336.1 678.6 336.5 675.7 337.3 675.7C338.5 675.7 339.1 675.7 340.3 675.7C341.5 675.7 342.1 675.7 343.3 675.7C344.6 675.7 345.2 675.7 346.4 675.7C347.2 675.7 347.6 678.6 348.4 678.6C349.5 678.6 350.0 676.6 351.1 676.6C352.4 676.6 353.0 676.6 354.3 676.6C354.9 676.6 355.2 675.7 355.9 675.7C357.1 675.7 357.7 675.7 359.0 675.7C360.2 675.7 360.8 675.7 362.1 675.7C362.7 675.7 363.1 676.6 363.8 676.6C364.9 676.6 365.4 675.7 366.6 675.7C367.7 675.7 368.3 679.6 369.4 679.6C370.5 679.6 371.0 675.7 372.1 675.7C373.0 675.7 373.5 675.7 374.4 675.7C375.7 675.7 376.3 677.7 377.6 677.7C379.4 677.7 380.3 675.7 382.0 675.7C383.3 675.7 383.9 675.7 385.2 675.7C386.5 675.7 387.1 675.7 388.4 675.7C389.2 675.7 389.5 676.6 390.3 676.6C391.8 676.6 392.6 676.6 394.1 676.6C395.6 676.6 396.4 676.6 397.9 676.6C399.0 676.6 399.5 679.6 400.6 679.6C401.7 679.6 402.3 676.6 403.4 676.6C404.6 676.6 405.3 677.7 406.5 677.7C408.0 677.7 408.7 676.7 410.1 676.7C411.4 676.7 412.0 676.7 413.2 676.7C414.4 676.7 415.0 676.7 416.3 676.7C417.5 676.7 418.1 676.7 419.3 676.7C420.6 676.7 421.2 676.7 422.4 676.7C423.3 676.7 423.8 677.7 424.8 677.7C426.5 677.7 427.4 676.7 429.1 676.7C430.9 676.7 431.8 678.7 433.5 678.7C435.1 678.7 435.9 677.7 437.4 677.7C438.2 677.7 438.7 677.7 439.5 677.7C440.7 677.7 441.4 676.7 442.6 676.7C443.7 676.7 444.3 677.7 445.4 677.7C446.7 677.7 447.4 677.7 448.7 677.7C450.0 677.7 450.7 677.7 452.0 677.7C453.3 677.7 454.0 677.7 455.3 677.7C456.4 677.7 456.9 679.6 458.0 679.6C459.1 679.6 459.7 678.4 460.8 678.4C461.9 678.4 462.4 679.6 463.5 679.6C465.3 679.6 466.2 677.7 467.9 677.7C469.1 677.7 469.6 677.7 470.8 677.7C471.9 677.7 472.5 677.7 473.6 677.7C474.8 677.7 475.3 677.7 476.5 677.7C477.6 677.7 478.2 677.7 479.3 677.7C480.5 677.7 481.0 677.7 482.2 677.7C483.4 677.7 484.1 678.6 485.4 678.6C486.6 678.6 487.3 677.7 488.5 677.7C489.9 677.7 490.6 677.7 492.1 677.7C494.1 677.7 495.2 680.5 497.2 680.5C498.2 680.5 498.7 677.8 499.6 677.8C500.8 677.8 501.4 677.8 502.6 677.8C503.8 677.8 504.4 677.8 505.6 677.8C506.5 677.8 507.0 681.6 507.9 681.6C509.0 681.6 509.6 677.8 510.7 677.8C512.0 677.8 512.6 678.7 513.9 678.7C515.9 678.7 517.0 678.7 519.0 678.7C519.8 678.7 520.2 680.6 521.0 680.6C522.1 680.6 522.7 677.8 523.8 677.8C525.7 677.8 526.6 681.6 528.5 681.6C529.6 681.6 530.2 677.8 531.3 677.8C532.6 677.8 533.2 681.6 534.4 681.6C536.3 681.6 537.3 677.8 539.2 677.8C540.6 677.8 541.4 678.7 542.8 678.7C544.4 678.7 545.1 678.7 546.7 678.7C548.0 678.7 548.6 681.6 549.9 681.6C551.0 681.6 551.6 678.7 552.7 678.7C553.9 678.7 554.5 678.7 555.6 678.7C556.8 678.7 557.4 678.7 558.6 678.7C559.5 678.7 560.0 682.4 561.0 682.4C561.8 682.4 562.1 678.7 562.9 678.7C564.0 678.7 564.6 678.7 565.6 678.7C566.7 678.7 567.2 678.7 568.3 678.7C569.4 678.7 569.9 678.7 571.0 678.7C572.1 678.7 572.6 678.7 573.7 678.7C574.7 678.7 575.3 678.7 576.4 678.7C577.4 678.7 578.0 678.7 579.0 678.7C580.1 678.7 580.6 678.7 581.7 678.7C582.8 678.7 583.3 678.7 584.4 678.7C585.5 678.7 586.0 678.7 587.1 678.7C587.9 678.7 588.3 680.6 589.1 680.6C590.2 680.6 590.7 678.7 591.8 678.7C593.1 678.7 593.8 679.5 595.1 679.6C595.8 679.7 596.2 679.6 597.0 679.7C598.1 679.8 598.7 682.4 599.8 682.4C601.2 682.4 601.9 678.7 603.3 678.7C605.1 678.7 606.0 678.7 607.7 678.7C608.7 678.7 609.1 679.7 610.1 679.7C611.3 679.7 612.0 678.7 613.2 678.7C614.5 678.7 615.2 678.7 616.5 678.7C617.7 678.7 618.3 679.7 619.6 679.7C621.0 679.7 621.7 678.7 623.1 678.7C624.6 678.7 625.3 679.6 626.7 679.6C628.4 679.6 629.3 679.6 631.0 679.6C632.1 679.6 632.7 678.7 633.8 678.7C634.9 678.7 635.5 679.6 636.6 679.6C637.7 679.6 638.3 679.6 639.4 679.6C640.5 679.6 641.1 679.6 642.2 679.6C643.4 679.6 643.9 679.6 645.1 679.6C646.2 679.6 646.7 679.6 647.9 679.6C649.0 679.6 649.6 679.6 650.7 679.6C651.8 679.6 652.4 679.6 653.5 679.6C654.6 679.6 655.2 679.6 656.3 679.6C657.5 679.6 658.0 679.6 659.2 679.6C660.3 679.6 660.8 679.6 662.0 679.6C663.2 679.6 663.9 680.7 665.1 680.7C666.2 680.7 666.8 679.7 667.9 679.7C669.5 679.7 670.3 680.7 671.9 680.7C673.1 680.7 673.8 680.1 675.0 679.7C676.3 679.3 676.9 678.7 678.2 678.7C680.3 678.7 681.3 680.6 683.4 680.6C684.5 680.6 685.0 679.7 686.1 679.7C687.2 679.7 687.7 679.7 688.7 679.7C689.8 679.7 690.3 679.7 691.3 679.7C692.4 679.7 692.9 679.7 693.9 679.7C695.0 679.7 695.5 679.7 696.6 679.7C697.6 679.7 698.1 679.7 699.2 679.7C700.2 679.7 700.7 679.7 701.8 679.7C702.8 679.7 703.4 679.7 704.4 679.7C705.4 679.7 706.0 679.7 707.0 679.7C708.0 679.7 708.5 680.7 709.5 680.7C710.7 680.7 711.4 679.7 712.6 679.7C714.4 679.7 715.2 681.6 717.0 681.6C718.1 681.6 718.6 679.7 719.7 679.7C720.8 679.7 721.4 680.7 722.5 680.7C723.5 680.7 723.9 679.7 724.9 679.7C726.2 679.7 726.8 681.6 728.1 681.6C729.4 681.6 730.0 680.7 731.2 680.7C732.6 680.7 733.2 680.7 734.6 680.7C735.9 680.7 736.6 680.7 737.9 680.7C739.2 680.7 739.9 680.7 741.2 680.7C742.1 680.7 742.6 679.7 743.5 679.7C744.6 679.7 745.2 680.7 746.3 680.7C747.8 680.7 748.5 680.7 750.0 680.7C751.5 680.7 752.3 680.7 753.8 680.7C754.8 680.7 755.2 681.6 756.2 681.6C757.3 681.6 757.9 680.7 759.0 680.7C760.2 680.7 760.9 681.6 762.1 681.6C764.0 681.6 765.0 681.6 766.9 681.6C768.0 681.6 768.5 680.7 769.6 680.7C770.6 680.7 771.1 685.7 772.0 685.7C773.1 685.7 773.7 680.7 774.8 680.7C776.8 680.7 777.9 684.7 779.9 684.7C781.4 684.7 782.1 680.7 783.5 680.7C785.2 680.7 786.1 680.7 787.8 680.7C788.8 680.7 789.3 681.6 790.3 681.6C791.7 681.6 792.4 680.7 793.8 680.7C795.6 680.7 796.5 680.7 798.2 680.7C799.3 680.7 799.8 681.6 800.9 681.6C802.5 681.6 803.3 680.7 804.9 680.7C806.5 680.7 807.3 681.6 808.9 681.6C810.4 681.6 811.2 680.7 812.8 680.7C814.4 680.7 815.2 681.6 816.8 681.6C817.7 681.6 818.2 680.7 819.1 680.7C820.3 680.7 820.8 681.6 821.9 681.6C823.0 681.6 823.6 680.7 824.7 680.7C825.8 680.7 826.3 680.7 827.5 680.7C828.6 680.7 829.1 680.7 830.3 680.7C830.9 680.7 831.2 680.8 831.8 681.2C832.6 681.6 833.0 682.2 833.8 682.5C835.4 683.1 836.2 683.6 837.8 683.6C838.9 683.6 839.4 681.6 840.5 681.6C841.6 681.6 842.1 681.6 843.2 681.6C844.2 681.6 844.7 681.6 845.8 681.6C846.8 681.6 847.4 681.6 848.4 681.6C849.4 681.6 849.8 683.6 850.8 683.6C851.7 683.6 852.2 681.7 853.2 681.7C854.4 681.7 855.0 681.7 856.2 681.7C857.5 681.7 858.1 681.7 859.3 681.7C860.6 681.7 861.2 681.7 862.4 681.7C863.6 681.7 864.3 681.7 865.5 681.7C866.7 681.7 867.3 681.7 868.6 681.7C869.6 681.7 870.0 683.6 871.0 683.6C872.0 683.6 872.5 681.7 873.4 681.7C874.8 681.7 875.5 684.6 876.9 684.6C877.9 684.6 878.4 681.7 879.3 681.7C880.4 681.7 881.0 684.6 882.1 684.6C884.2 684.6 885.2 681.7 887.3 681.7C888.5 681.7 889.2 682.6 890.4 682.6C891.4 682.6 891.8 681.7 892.8 681.7C894.1 681.7 894.7 682.6 895.9 682.6C897.2 682.6 897.9 681.7 899.2 681.7C900.7 681.7 901.5 682.6 903.1 682.6C904.2 682.6 904.7 682.6 905.9 682.6C907.0 682.6 907.5 682.6 908.7 682.6C909.6 682.6 910.1 683.6 911.0 683.6C912.3 683.6 912.9 682.6 914.2 682.6C915.6 682.6 916.3 682.6 917.7 682.6C919.2 682.6 919.9 682.6 921.3 682.6C922.4 682.6 923.0 684.6 924.1 684.6C925.3 684.6 926.0 682.6 927.2 682.6C929.0 682.6 929.8 682.6 931.6 682.6C932.7 682.6 933.3 683.7 934.4 683.7C935.4 683.7 936.0 683.7 937.0 683.7C938.1 683.7 938.6 683.7 939.7 683.7C940.8 683.7 941.3 683.7 942.4 683.7C943.5 683.7 944.0 683.7 945.1 683.7C946.1 683.7 946.7 683.7 947.7 683.7C948.8 683.7 949.3 683.7 950.4 683.7C951.5 683.7 952.0 683.7 953.1 683.7C954.2 683.7 954.7 683.7 955.8 683.7C956.7 683.7 957.2 684.6 958.1 684.6C959.2 684.6 959.7 684.6 960.8 684.6C961.8 684.6 962.4 684.6 963.4 684.6C964.5 684.6 965.0 684.6 966.1 684.6C967.0 684.6 967.5 683.7 968.4 683.7C969.4 683.7 969.9 684.6 970.8 684.6C971.9 684.6 972.4 684.6 973.5 684.6C974.6 684.6 975.1 684.6 976.2 684.6C977.3 684.6 977.8 684.6 978.9 684.6C980.0 684.6 980.5 684.6 981.6 684.6C982.7 684.6 983.2 684.6 984.3 684.6C985.2 684.6 985.7 685.5 986.6 685.5C987.6 685.5 988.1 684.7 989.0 684.7C990.3 684.7 990.9 689.6 992.2 689.6C993.1 689.6 993.6 684.7 994.6 684.7C995.7 684.7 996.2 688.7 997.3 688.7C998.6 688.7 999.2 684.7 1000.5 684.7C1002.4 684.7 1003.3 684.7 1005.2 684.7C1006.2 684.7 1006.6 685.6 1007.6 685.6C1008.7 685.6 1009.3 684.7 1010.4 684.7C1011.6 684.7 1012.1 684.7 1013.3 684.7C1014.5 684.7 1015.0 684.7 1016.2 684.7C1017.4 684.7 1017.9 684.7 1019.1 684.7C1020.8 684.7 1021.7 689.6 1023.5 689.6C1024.4 689.6 1024.9 686.7 1025.8 686.7C1027.0 686.7 1027.6 689.6 1028.8 689.6C1029.7 689.6 1030.2 685.7 1031.2 685.7C1032.2 685.7 1032.8 685.7 1033.9 685.7C1034.9 685.7 1035.5 685.7 1036.5 685.7C1037.6 685.7 1038.2 685.7 1039.2 685.7C1040.3 685.7 1040.9 685.7 1041.9 685.7C1043.0 685.7 1043.5 685.7 1044.6 685.7C1045.7 685.7 1046.2 685.7 1047.3 685.7C1048.3 685.7 1048.8 686.6 1049.8 686.6C1050.8 686.6 1051.3 685.7 1052.4 685.7C1053.3 685.7 1053.8 686.6 1054.8 686.6C1055.9 686.6 1056.5 686.6 1057.5 686.6C1058.6 686.6 1059.2 686.6 1060.3 686.6C1061.4 686.6 1061.9 686.6 1063.0 686.6C1064.1 686.6 1064.6 686.6 1065.7 686.6C1066.8 686.6 1067.4 686.6 1068.4 686.6C1069.5 686.6 1070.1 686.6 1071.2 686.6C1072.3 686.6 1072.8 686.6 1073.9 686.6C1075.0 686.6 1075.5 686.6 1076.6 686.6C1077.7 686.6 1078.3 686.6 1079.3 686.6C1080.8 686.6 1081.6 689.5 1083.1 689.6C1084.1 689.7 1084.6 689.6 1085.6 689.7C1086.9 689.7 1087.6 692.7 1088.9 692.7C1089.9 692.7 1090.4 687.6 1091.4 687.6C1092.6 687.6 1093.1 687.6 1094.3 687.6C1095.5 687.6 1096.0 687.6 1097.2 687.6C1098.0 687.6 1098.5 688.6 1099.3 688.6C1100.7 688.6 1101.4 687.7 1102.8 687.7C1104.4 687.7 1105.2 688.6 1106.8 688.6C1107.9 688.6 1108.4 688.6 1109.5 688.6C1110.5 688.6 1111.1 688.6 1112.1 688.6C1113.2 688.6 1113.7 688.6 1114.8 688.6C1115.9 688.6 1116.4 688.6 1117.4 688.6C1118.5 688.6 1119.0 688.6 1120.1 688.6C1120.9 688.6 1121.4 689.5 1122.2 689.6C1123.2 689.6 1123.7 689.6 1124.7 689.6C1126.0 689.7 1126.7 690.6 1128.0 690.6C1129.1 690.6 1129.7 689.7 1130.8 689.7C1132.9 689.7 1133.9 691.7 1135.9 692.6C1136.9 693.1 1137.4 692.6 1138.4 693.1C1139.0 693.6 1139.4 698.5 1140.1 702.7C1140.4 705.0 1140.6 709.5 1141.0 709.5C1142.2 709.5 1142.7 706.7 1143.9 706.7C1145.0 706.7 1145.6 718.2 1146.7 718.4C1147.9 718.7 1148.4 718.4 1149.6 718.7C1149.9 718.9 1150.3 719.3 1150.3 719.3" fill="none" stroke="#000" stroke-width="2" stroke-linejoin="round"/>
</g>
<g fill="#000">
<rect x="20" y="662" width="1160" height="2"/>
<rect x="48" y="662" width="2" height="80"/>
<rect x="1150" y="662" width="2" height="80"/>
<rect x="40" y="686" width="18" height="32"/>
<rect x="1142" y="686" width="18" height="32"/>
<rect x="18" y="742" width="1163" height="30"/>
</g>
<rect x="50" y="662" width="1" height="5" fill="#b4b4b4"/>
<text x="1180.2" y="789.5" text-anchor="end" font-size="17" fill="#000" stroke="#000" stroke-width="0.4" letter-spacing="1.3">Highcharts.com</text>
</svg>
</body>
</html>
